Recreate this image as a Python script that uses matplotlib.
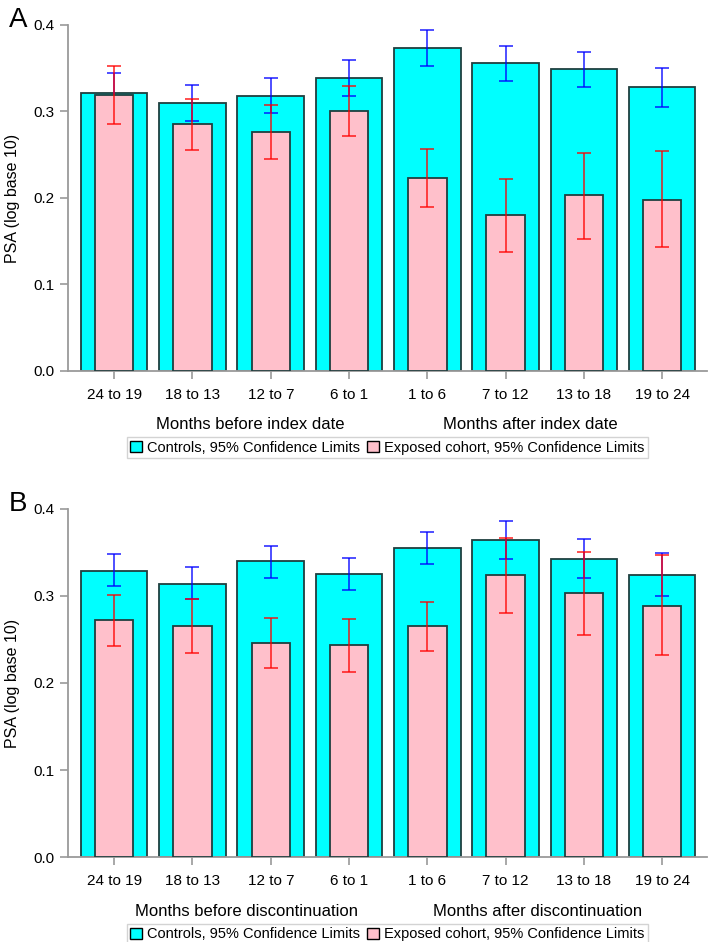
import numpy as np
import matplotlib
matplotlib.use("Agg")
import matplotlib.pyplot as plt
from matplotlib.patches import Patch

plt.rcParams["font.family"] = ["Liberation Sans", "DejaVu Sans"]

periods = ["24 to 19", "18 to 13", "12 to 7", "6 to 1",
           "1 to 6", "7 to 12", "13 to 18", "19 to 24"]

# panel A: months around index date
ctrl_mean_a = [0.321, 0.310, 0.318, 0.339, 0.373, 0.356, 0.349, 0.328]
ctrl_lo_a = [0.299, 0.289, 0.298, 0.318, 0.353, 0.335, 0.328, 0.305]
ctrl_hi_a = [0.344, 0.331, 0.339, 0.359, 0.394, 0.376, 0.369, 0.350]
exp_mean_a = [0.319, 0.285, 0.276, 0.301, 0.223, 0.180, 0.203, 0.198]
exp_lo_a = [0.286, 0.255, 0.245, 0.272, 0.189, 0.138, 0.153, 0.143]
exp_hi_a = [0.353, 0.314, 0.307, 0.329, 0.257, 0.222, 0.252, 0.254]

# panel B: months around discontinuation
ctrl_mean_b = [0.329, 0.314, 0.340, 0.325, 0.355, 0.364, 0.343, 0.324]
ctrl_lo_b = [0.311, 0.296, 0.321, 0.307, 0.337, 0.342, 0.321, 0.300]
ctrl_hi_b = [0.348, 0.333, 0.358, 0.344, 0.374, 0.386, 0.365, 0.349]
exp_mean_b = [0.272, 0.266, 0.246, 0.244, 0.265, 0.324, 0.303, 0.289]
exp_lo_b = [0.243, 0.235, 0.217, 0.213, 0.237, 0.281, 0.255, 0.232]
exp_hi_b = [0.301, 0.297, 0.275, 0.274, 0.293, 0.367, 0.351, 0.347]

CYAN = "#00FFFF"
PINK = "#FFC0CB"
EDGE = "#1f3f3f"
GRAY = "#9a9a9a"


def panel(ax, letter, cm, clo, chi, em, elo, ehi, before, after, bx, axx):
    x = np.arange(len(periods))
    cm, clo, chi = map(np.asarray, (cm, clo, chi))
    em, elo, ehi = map(np.asarray, (em, elo, ehi))
    ax.bar(x, cm, width=0.85, color=CYAN, edgecolor=EDGE, linewidth=1.3, zorder=1)
    ax.errorbar(x, cm, yerr=[cm - clo, chi - cm], fmt="none", ecolor="#0000ff",
                alpha=0.75, elinewidth=1.3, capsize=5, capthick=1.3, zorder=2)
    ax.bar(x, em, width=0.49, color=PINK, edgecolor=EDGE, linewidth=1.3, zorder=3)
    ax.errorbar(x, em, yerr=[em - elo, ehi - em], fmt="none", ecolor="#ff0000",
                alpha=0.75, elinewidth=1.3, capsize=5, capthick=1.3, zorder=4)

    ax.set_xlim(-0.59, 7.57)
    ax.set_ylim(0, 0.4)
    ax.set_yticks([0.0, 0.1, 0.2, 0.3, 0.4])
    ax.set_yticklabels(["0.0", "0.1", "0.2", "0.3", "0.4"])
    ax.set_xticks(x)
    ax.set_xticklabels(periods)
    ax.tick_params(axis="both", colors=GRAY, labelcolor="black", labelsize=11,
                   length=6, width=1.2)
    ax.tick_params(axis="x", pad=6)
    for s in ("top", "right"):
        ax.spines[s].set_visible(False)
    for s in ("left", "bottom"):
        ax.spines[s].set_color(GRAY)
        ax.spines[s].set_linewidth(1.3)
    ax.spines["bottom"].set_bounds(-0.59, 7.57)
    ax.set_ylabel("PSA (log base 10)", fontsize=11.5, labelpad=10)

    ax.text(bx, -0.156, before, transform=ax.transAxes, ha="center", va="center", fontsize=12)
    ax.text(axx, -0.156, after, transform=ax.transAxes, ha="center", va="center", fontsize=12)

    handles = [Patch(facecolor=CYAN, edgecolor="black", linewidth=1.0),
               Patch(facecolor=PINK, edgecolor="black", linewidth=1.0)]
    leg = ax.legend(handles, ["Controls, 95% Confidence Limits",
                              "Exposed cohort, 95% Confidence Limits"],
                    loc="center", bbox_to_anchor=(0.5, -0.222), ncol=2,
                    fontsize=10.5, frameon=True, fancybox=False,
                    handlelength=0.8, handleheight=0.8, handletextpad=0.35,
                    columnspacing=0.5, borderpad=0.25, borderaxespad=0)
    leg.get_frame().set_edgecolor("#c8c8c8")
    leg.get_frame().set_linewidth(1.0)

    ax.figure.text(0.012, ax.get_position().y1 + 0.005, letter, fontsize=20,
                   ha="left", va="center")


fig = plt.figure(figsize=(7.09, 9.42), dpi=100)
ax_a = fig.add_axes([0.0959, 0.6062, 0.901, 0.3673])
ax_b = fig.add_axes([0.0959, 0.0902, 0.901, 0.3695])

panel(ax_a, "A", ctrl_mean_a, ctrl_lo_a, ctrl_hi_a, exp_mean_a, exp_lo_a, exp_hi_a,
      "Months before index date", "Months after index date", 0.286, 0.723)
panel(ax_b, "B", ctrl_mean_b, ctrl_lo_b, ctrl_hi_b, exp_mean_b, exp_lo_b, exp_hi_b,
      "Months before discontinuation", "Months after discontinuation", 0.280, 0.735)

fig.savefig("out.png", dpi=100)
